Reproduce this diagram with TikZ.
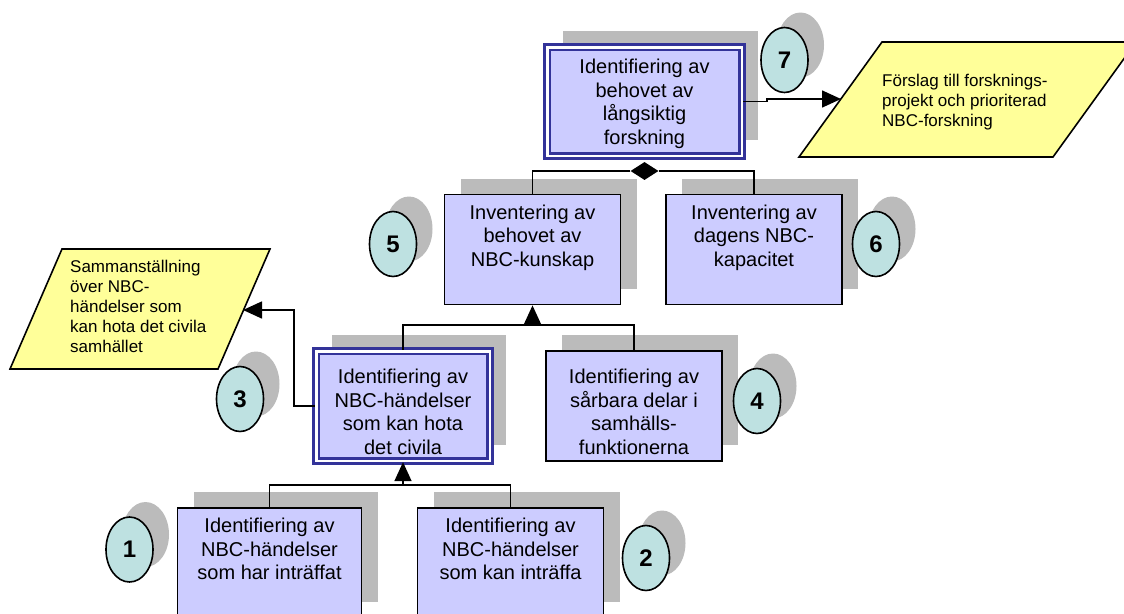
\documentclass[tikz,border=0pt]{standalone}
\usepackage{fontspec}
\setmainfont{Liberation Sans}
\usetikzlibrary{shapes.geometric,arrows.meta,shadows,positioning}

\definecolor{boxfill}{HTML}{CCCCFF}
\definecolor{dblue}{HTML}{333399}
\definecolor{numfill}{HTML}{BEE1E1}
\definecolor{iofill}{HTML}{FFFF99}
\definecolor{shadegray}{HTML}{BBBBBB}

\begin{document}
\begin{tikzpicture}[x=1pt,y=-1pt,
	box/.style={draw, line width=1.8pt, fill=boxfill, inner sep=0, minimum width=176pt, minimum height=110pt,
		drop shadow={shadow xshift=16pt, shadow yshift=16pt, fill=shadegray, opacity=1}},
	dbox/.style={box, draw=dblue, line width=2.8pt, double=white, double distance=2.5pt},
	txt/.style={align=center, inner sep=0, font=\fontsize{20}{23.5}\selectfont},
	note/.style={align=left, inner sep=0, anchor=north west, font=\fontsize{17}{20}\selectfont},
	enum/.style={ellipse, draw, line width=1.6pt, fill=numfill, minimum width=47pt, minimum height=65pt, inner sep=0,
		font=\fontsize{24}{24}\selectfont\bfseries,
		drop shadow={shadow xshift=16pt, shadow yshift=15pt, fill=shadegray, opacity=1}},
	io/.style={draw, line width=1.6pt, fill=iofill},
	conn/.style={line width=1.6pt},
	arr/.style={conn, -{Triangle[length=19pt, width=17pt]}},
	agg/.style={diamond, fill=black, minimum width=28pt, minimum height=18pt, inner sep=0}]

	\useasboundingbox (0,0) rectangle (1124,613);

	% results
	\draw[io] (10,369) -- (62,249) -- (270,249) -- (218,369) -- cycle;
	\node[note] (n3) at (70,259.6) {Sammanställning\\över NBC-\\händelser som\\kan hota det civila\\samhället};
	\coordinate (p3) at (243,310);

	\draw[io] (799,157) -- (882,42) -- (1136,42) -- (1053,157) -- cycle;
	\node[note] (n7) at (882,73.5) {Förslag till forsknings-\\projekt och prioriterad\\NBC-forskning};
	\coordinate (p7) at (841,99);

	% steps
	\node[box, minimum width=184pt] (b1) at (269.5,563) {};
	\node[box, minimum width=186pt] (b2) at (510.5,563) {};
	\node[dbox, minimum width=173.5pt, minimum height=109.5pt] (b3) at (403,406) {};
	\node[box] (b4) at (634,406) {};
	\node[box] (b5) at (532.5,249.5) {};
	\node[box] (b6) at (754,249.5) {};
	\node[dbox, minimum width=194.5pt, minimum height=108.5pt] (b7) at (644.5,101.5) {};

	\node[txt, below=11pt of b1.north] (t1) {Identifiering av\\NBC-händelser\\som har inträffat};
	\node[txt, below=11pt of b2.north] (t2) {Identifiering av\\NBC-händelser\\som kan inträffa};
	\node[txt, below=19pt of b3.north] (t3) {Identifiering av\\NBC-händelser\\som kan hota\\det civila};
	\node[txt, below=19pt of b4.north] (t4) {Identifiering av\\sårbara delar i\\samhälls-\\funktionerna};
	\node[txt, below=11pt of b5.north] (t5) {Inventering av\\behovet av\\NBC-kunskap};
	\node[txt, below=11pt of b6.north] (t6) {Inventering av\\dagens NBC-\\kapacitet};
	\node[txt, below=13pt of b7.north] (t7) {Identifiering av\\behovet av\\långsiktig\\forskning};

	% connectors
	\coordinate (j1) at (403,485);
	\draw[conn] (b1.north) |- (j1) -| (b2.north);
	\draw[arr] (j1) -- (b3.south);

	\coordinate (j2) at (532.5,325);
	\draw[conn] (b3.north) |- (j2) -| (b4.north);
	\draw[arr] (j2) -- (b5.south);

	\node[agg] (d7) at (644.5,171) {};
	\draw[conn] (d7.west) -| (b5.north);
	\draw[conn] (d7.east) -| (b6.north);

	\draw[arr] (b7.east) -- ++(24,0) |- (p7);
	\draw[arr] (b3.west) -- ++(-21,0) |- (p3);

	% numbers
	\node[enum] (e1) at (129.5,549.5) {1};
	\node[enum] (e2) at (646,558) {2};
	\node[enum] (e3) at (240,399) {3};
	\node[enum] (e4) at (757,401) {4};
	\node[enum] (e5) at (393,244) {5};
	\node[enum] (e6) at (876,244) {6};
	\node[enum] (e7) at (784.5,60) {7};
\end{tikzpicture}
\end{document}
